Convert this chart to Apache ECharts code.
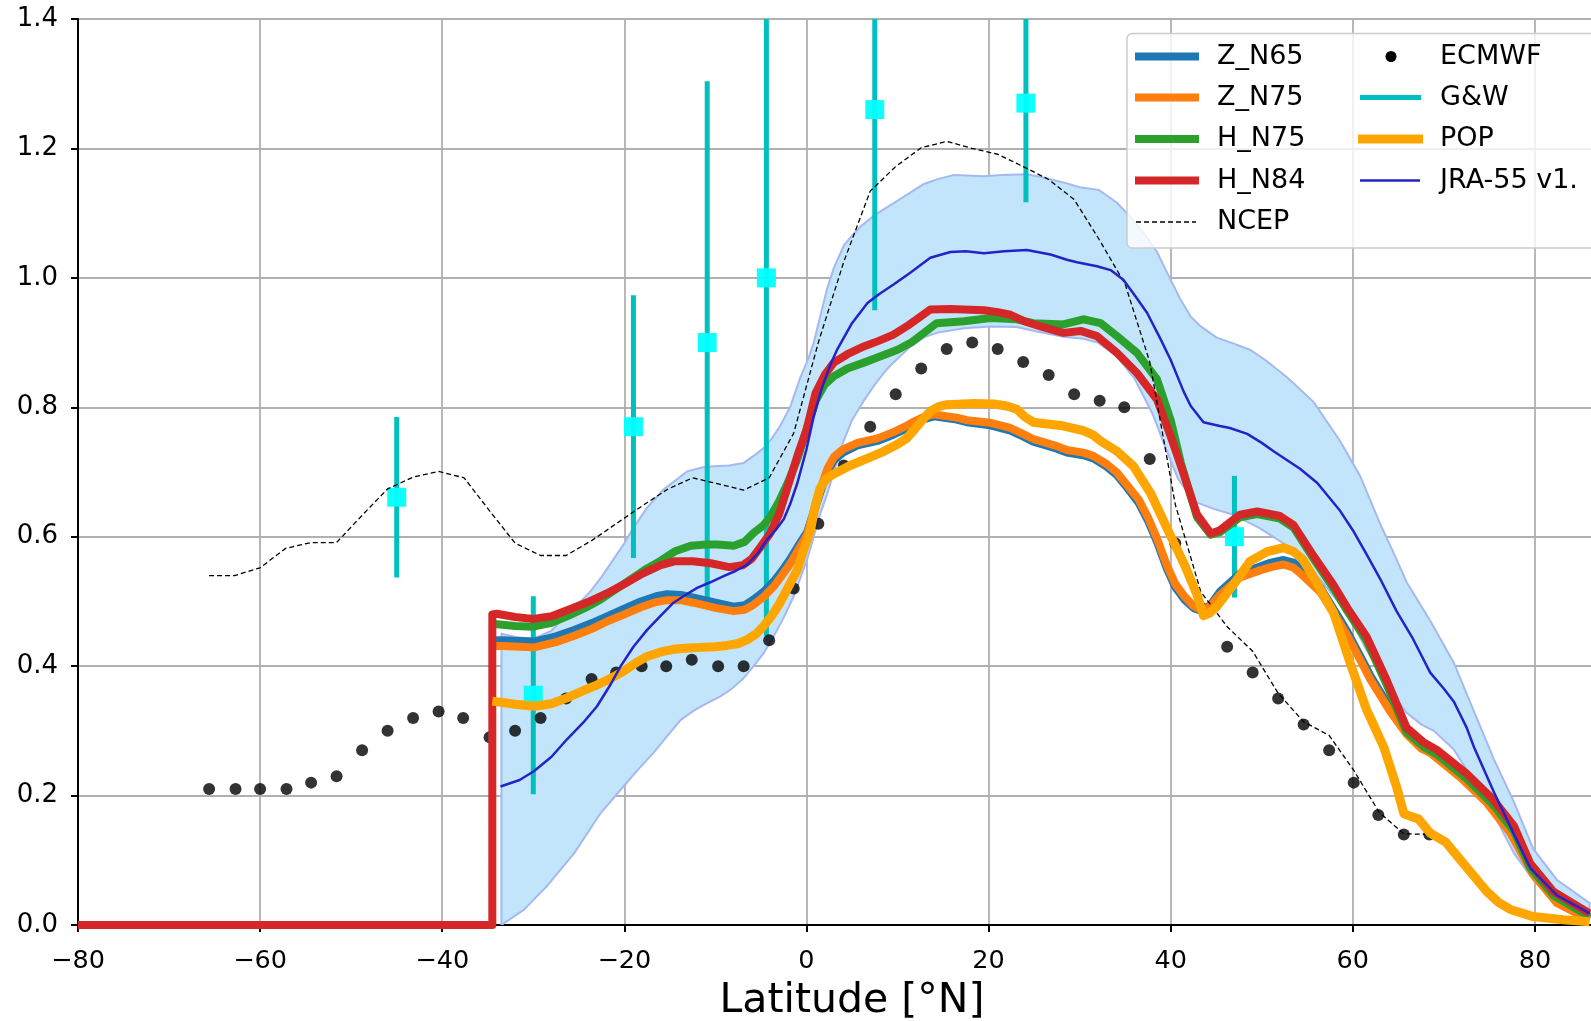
<!DOCTYPE html>
<html><head><meta charset="utf-8">
<script src="https://cdn.jsdelivr.net/npm/echarts@6/dist/echarts.min.js"></script>
<style>html,body{margin:0;padding:0;overflow:hidden;background:#fff}#chart{width:1640px;height:1021px}</style>
</head><body><div id="chart"></div>
<script>
// ---- data (latitude [°N], value) ----
const zN65 = [[-34.3,0.44],[-33.4,0.44],[-31.5,0.439],[-29.9,0.438],[-27.5,0.446],[-25.5,0.456],[-23.5,0.467],[-21.9,0.477],[-20,0.489],[-18.2,0.5],[-16.5,0.508],[-15.3,0.511],[-13.8,0.51],[-12.4,0.506],[-10,0.498],[-8,0.492],[-6.8,0.494],[-5.8,0.503],[-4.7,0.515],[-3.6,0.531],[-2.7,0.547],[-1.8,0.565],[-0.9,0.586],[0.07,0.607],[0.8,0.638],[1.5,0.668],[2.3,0.7],[3,0.718],[4,0.73],[5.6,0.741],[7.8,0.748],[9.6,0.758],[10.8,0.766],[11.8,0.774],[13,0.782],[14,0.786],[16.5,0.781],[17.6,0.777],[20.2,0.772],[22.4,0.764],[23.6,0.756],[24.9,0.747],[27.5,0.736],[28.6,0.73],[30.4,0.726],[31.5,0.721],[33,0.708],[34.1,0.695],[35.2,0.676],[36.5,0.652],[37.5,0.625],[38.5,0.592],[39.6,0.55],[40.5,0.522],[41.5,0.503],[42.5,0.49],[43.6,0.484],[44.5,0.497],[45.4,0.515],[47.6,0.543],[49.8,0.554],[51,0.56],[52.4,0.564],[53.5,0.56],[54.5,0.548],[56.4,0.522],[58.6,0.472],[59.4,0.453],[60.8,0.416],[61.9,0.386],[64.1,0.335],[65.9,0.3],[67.5,0.278],[68.5,0.27],[71.8,0.232],[74.7,0.193],[77.3,0.146],[79.8,0.08],[82.4,0.036],[86,0.01]];
const zN75 = [[-34.3,0.431],[-33.4,0.431],[-31.5,0.43],[-29.9,0.429],[-27.5,0.437],[-25.5,0.447],[-23.5,0.458],[-21.9,0.469],[-20,0.48],[-18.2,0.491],[-16.5,0.499],[-15.3,0.502],[-13.8,0.502],[-12.4,0.498],[-10,0.49],[-8,0.485],[-6.8,0.487],[-5.8,0.495],[-4.7,0.507],[-3.6,0.523],[-2.7,0.54],[-1.8,0.558],[-0.9,0.58],[0.07,0.603],[0.8,0.64],[1.5,0.672],[2.3,0.705],[3,0.723],[4,0.735],[5.6,0.745],[7.8,0.752],[9.6,0.762],[10.8,0.77],[11.8,0.778],[13,0.786],[14,0.789],[16.5,0.784],[17.6,0.78],[20.2,0.776],[22.4,0.768],[23.6,0.76],[24.9,0.751],[27.5,0.74],[28.6,0.734],[30.4,0.73],[31.5,0.725],[33,0.712],[34.1,0.699],[35.2,0.68],[36.5,0.657],[37.5,0.63],[38.5,0.597],[39.6,0.555],[40.5,0.527],[41.5,0.508],[42.5,0.493],[43.6,0.485],[44.5,0.495],[45.4,0.51],[47.6,0.537],[49.8,0.548],[51,0.553],[52.4,0.557],[53.5,0.552],[54.5,0.54],[56.4,0.515],[58.6,0.466],[59.4,0.447],[60.8,0.41],[61.9,0.38],[64.1,0.33],[65.9,0.295],[67.5,0.273],[68.5,0.266],[71.8,0.228],[74.7,0.189],[77.3,0.142],[79.8,0.078],[82.4,0.034],[86,0.008]];
const hN75 = [[-34.3,0.465],[-33.4,0.464],[-32,0.462],[-30,0.461],[-28,0.467],[-26.3,0.477],[-24,0.492],[-22.6,0.503],[-21,0.518],[-19.3,0.534],[-17.5,0.551],[-16,0.563],[-14.5,0.577],[-12.7,0.586],[-11,0.588],[-9.8,0.588],[-8,0.586],[-6.8,0.592],[-5.8,0.606],[-4.7,0.618],[-4,0.63],[-3,0.655],[-2,0.685],[-1,0.72],[0,0.765],[1,0.81],[2,0.835],[3,0.848],[4.5,0.86],[6.3,0.869],[8,0.878],[10,0.889],[11.5,0.9],[12.9,0.915],[14.3,0.93],[17.3,0.933],[20.2,0.938],[23.1,0.936],[24.9,0.93],[28.2,0.928],[30.4,0.936],[32.3,0.93],[34.1,0.91],[36.3,0.884],[38.5,0.843],[40,0.78],[41.1,0.715],[42.9,0.63],[44.4,0.603],[45.4,0.607],[47.6,0.63],[49.5,0.635],[52,0.628],[53.5,0.614],[55.7,0.566],[57.9,0.52],[59.4,0.485],[61.5,0.44],[63.7,0.372],[65.9,0.298],[67.8,0.275],[69.2,0.264],[72.5,0.226],[75.4,0.186],[77.7,0.145],[79.5,0.088],[82,0.046],[86,0.013]];
const hN84 = [[-80,0],[-34.5,0],[-34.5,0.48],[-34,0.481],[-32,0.476],[-30,0.473],[-28,0.477],[-26,0.488],[-24,0.499],[-22,0.512],[-20,0.527],[-18,0.543],[-16,0.556],[-14.5,0.562],[-12.5,0.562],[-10.5,0.559],[-8.5,0.553],[-7,0.556],[-6,0.566],[-5,0.585],[-4,0.605],[-3,0.635],[-2,0.68],[-1,0.725],[0,0.765],[1,0.822],[2,0.85],[3,0.869],[4.5,0.882],[6.3,0.894],[8,0.903],[9.5,0.912],[11,0.925],[12.5,0.94],[13.6,0.951],[15.8,0.952],[19.5,0.95],[21,0.947],[22.4,0.943],[23.9,0.933],[25.7,0.925],[28.2,0.915],[30.1,0.918],[31.9,0.91],[34.1,0.884],[36.3,0.853],[38.5,0.812],[40,0.755],[41.1,0.71],[42.9,0.634],[44.4,0.605],[45.4,0.61],[47.6,0.634],[49.5,0.639],[52,0.632],[53.5,0.618],[55.7,0.57],[57.9,0.525],[59.4,0.49],[61.5,0.446],[63.7,0.379],[65.9,0.305],[67.8,0.282],[69.2,0.271],[72.5,0.234],[75.4,0.194],[77.7,0.153],[79.5,0.095],[82,0.052],[86,0.018]];
const ncep = [[-65.6,0.54],[-62.8,0.54],[-60,0.552],[-57.2,0.582],[-54.4,0.591],[-51.6,0.591],[-48.8,0.633],[-46,0.674],[-43.2,0.692],[-40.4,0.701],[-37.6,0.691],[-34.8,0.64],[-32,0.59],[-29.2,0.571],[-26.4,0.571],[-23.6,0.594],[-20.9,0.62],[-18.1,0.647],[-15.3,0.673],[-12.5,0.691],[-9.8,0.682],[-6.9,0.672],[-4.1,0.691],[-1.4,0.76],[1.3,0.9],[4.1,1.025],[7,1.134],[9.8,1.172],[12.6,1.201],[15.4,1.211],[18.2,1.2],[21,1.191],[23.8,1.172],[26.6,1.152],[29.4,1.121],[32.2,1.058],[35,0.99],[37.7,0.87],[40.5,0.65],[43.3,0.515],[46.2,0.461],[49,0.423],[51.8,0.358],[54.6,0.314],[57.4,0.293],[60.1,0.239],[62.9,0.174],[65.6,0.141],[68.4,0.14]];
const ecmwf = [[-65.6,0.21],[-62.7,0.21],[-60,0.21],[-57.1,0.21],[-54.4,0.22],[-51.6,0.23],[-48.8,0.27],[-46,0.3],[-43.2,0.32],[-40.4,0.33],[-37.7,0.32],[-34.8,0.29],[-32,0.3],[-29.2,0.32],[-26.4,0.35],[-23.6,0.38],[-20.9,0.39],[-18.1,0.4],[-15.4,0.4],[-12.6,0.41],[-9.7,0.4],[-6.9,0.4],[-4.1,0.44],[-1.4,0.52],[1.3,0.62],[4.1,0.71],[7,0.77],[9.8,0.82],[12.6,0.86],[15.4,0.89],[18.2,0.9],[21,0.89],[23.8,0.87],[26.6,0.85],[29.4,0.82],[32.2,0.81],[34.9,0.8],[37.7,0.72],[40.5,0.59],[43.4,0.49],[46.2,0.43],[49,0.39],[51.8,0.35],[54.6,0.31],[57.4,0.27],[60.1,0.22],[62.8,0.17],[65.6,0.14],[68.4,0.14]];
const gwLat = [-45, -30, -19, -10.9, -4.4, 7.5, 24.1, 47];
const gwVal = [0.661, 0.355, 0.77, 0.9, 1.0, 1.26, 1.27, 0.6];
const gwErr = [0.124, 0.153, 0.203, 0.404, 0.553, 0.31, 0.153, 0.094];
const pop = [[-34.5,0.346],[-32,0.341],[-29.9,0.338],[-28,0.342],[-26.3,0.351],[-24.5,0.362],[-23.3,0.369],[-21.5,0.381],[-20.1,0.392],[-18.5,0.407],[-17.5,0.415],[-16,0.422],[-14.6,0.426],[-13,0.428],[-11.6,0.429],[-10,0.43],[-8.7,0.432],[-7.5,0.435],[-6.5,0.441],[-5.5,0.45],[-4.7,0.462],[-3.8,0.478],[-2.9,0.498],[-2,0.522],[-1,0.549],[-0.3,0.58],[0.44,0.61],[1,0.65],[1.5,0.675],[2.2,0.69],[3,0.697],[4.8,0.71],[6.7,0.721],[8.5,0.732],[10,0.743],[11,0.752],[11.8,0.765],[12.7,0.78],[13.6,0.794],[14.5,0.801],[15.4,0.804],[18.4,0.806],[20.6,0.805],[22,0.802],[23.1,0.797],[24,0.785],[24.9,0.777],[26,0.775],[27.9,0.772],[30.4,0.764],[31.5,0.757],[32.3,0.748],[34.1,0.732],[35.9,0.709],[37.8,0.667],[39.6,0.613],[41.5,0.557],[42.9,0.51],[43.6,0.478],[44.3,0.482],[45.1,0.493],[46.9,0.526],[48.7,0.562],[50.6,0.577],[52.4,0.583],[53.5,0.577],[54.5,0.565],[55.7,0.537],[57.9,0.482],[59.7,0.405],[61.5,0.333],[63.4,0.275],[64.8,0.214],[65.6,0.172],[66.5,0.167],[67.2,0.164],[68.5,0.142],[70.2,0.128],[72.5,0.089],[74.7,0.052],[76,0.035],[77.3,0.024],[79.8,0.013],[83.1,0.008],[86,0.005]];
const jra = [[-33.6,0.214],[-31.5,0.224],[-29.9,0.238],[-28,0.26],[-26.3,0.287],[-24.5,0.313],[-23,0.338],[-21.5,0.372],[-20.4,0.4],[-19,0.43],[-17.5,0.456],[-16,0.478],[-14.6,0.498],[-13.3,0.51],[-12,0.521],[-10.5,0.53],[-9.1,0.539],[-7.8,0.547],[-6.5,0.557],[-5.4,0.573],[-4.3,0.596],[-3.4,0.61],[-2.5,0.627],[-1.8,0.65],[-1,0.683],[0,0.735],[0.8,0.786],[1.7,0.83],[2.6,0.865],[3.4,0.89],[5,0.93],[6.7,0.961],[8,0.975],[9.6,0.99],[11.4,1.008],[13.6,1.031],[15.8,1.04],[17.5,1.041],[19.5,1.038],[21.7,1.041],[24.2,1.043],[26.8,1.036],[28.6,1.028],[29.7,1.024],[31.9,1.018],[33.4,1.012],[34.8,0.997],[36.2,0.97],[37.4,0.946],[38.9,0.905],[40,0.873],[41.4,0.825],[42.2,0.802],[43.6,0.777],[45.4,0.771],[46.5,0.768],[48.4,0.759],[50,0.745],[51.3,0.732],[54.2,0.705],[56.1,0.683],[58.6,0.64],[60,0.61],[61.5,0.573],[63,0.535],[64.8,0.485],[66.5,0.445],[68.5,0.39],[70,0.365],[71.1,0.345],[72.5,0.305],[73.3,0.275],[75.5,0.205],[77.7,0.14],[79.5,0.088],[82.4,0.046],[86,0.018]];
const bandUpper = [[-33.5,0.45],[-32,0.445],[-30,0.442],[-28,0.455],[-26.3,0.48],[-25,0.497],[-23.7,0.516],[-22.5,0.538],[-21.2,0.565],[-20,0.59],[-19,0.614],[-17.5,0.645],[-15.7,0.673],[-13.1,0.701],[-11.5,0.707],[-10.2,0.709],[-8.5,0.71],[-6.9,0.714],[-5.5,0.728],[-4.7,0.737],[-3.8,0.752],[-2.9,0.771],[-1.8,0.8],[-0.7,0.845],[0.2,0.875],[0.8,0.9],[1.5,0.94],[2.3,0.985],[3,1.015],[4.1,1.05],[4.8,1.062],[6,1.08],[7.6,1.098],[10.1,1.12],[12.9,1.145],[14.5,1.153],[16.2,1.159],[19.5,1.157],[21.5,1.159],[24.2,1.16],[26,1.155],[28.6,1.146],[30,1.14],[32.1,1.136],[34.1,1.116],[35.5,1.095],[37,1.07],[38.5,1.04],[39.6,1.008],[41.1,0.966],[42.2,0.94],[43.3,0.925],[45,0.908],[47,0.898],[48.7,0.889],[50.5,0.872],[52.8,0.846],[55.7,0.808],[58.6,0.748],[60.8,0.694],[63,0.62],[64.8,0.565],[65.9,0.53],[68.5,0.47],[71.1,0.405],[73.3,0.33],[75.5,0.256],[77.7,0.19],[79.8,0.118],[82.4,0.07],[86,0.034]];
const bandLower = [[-33.5,0],[-33.2,0.003],[-31,0.024],[-28.5,0.06],[-25.5,0.111],[-22.6,0.173],[-20.1,0.214],[-18.5,0.24],[-16.8,0.266],[-15.3,0.292],[-13.8,0.317],[-12.3,0.332],[-10.9,0.343],[-9.5,0.353],[-8.3,0.364],[-7,0.38],[-5.8,0.4],[-4.7,0.42],[-3.6,0.446],[-2.5,0.475],[-1.4,0.508],[-0.7,0.535],[0.07,0.565],[0.8,0.6],[1.5,0.635],[2.3,0.667],[3,0.7],[4,0.745],[5,0.78],[6.3,0.81],[7.5,0.835],[8.9,0.86],[10,0.875],[11.5,0.895],[12.9,0.908],[14.3,0.915],[17.3,0.922],[20.2,0.925],[23.1,0.924],[25.3,0.917],[28.2,0.909],[30.4,0.906],[32,0.9],[34,0.88],[36,0.845],[38,0.79],[39.5,0.735],[40.8,0.69],[42.5,0.655],[44.7,0.643],[46.9,0.634],[49.8,0.613],[52.8,0.586],[54.9,0.559],[57.2,0.52],[59.4,0.482],[61.5,0.425],[63.1,0.39],[64.5,0.355],[65.9,0.328],[67.5,0.31],[68.9,0.3],[71.1,0.271],[72.5,0.24],[74.7,0.192],[77.7,0.111],[79.8,0.07],[82.7,0.034],[86,0.012]];
const legendCol1 = ['Z_N65', 'Z_N75', 'H_N75', 'H_N84', 'NCEP'];
const legendCol2 = ['ECMWF', 'G&W', 'POP', 'JRA-55 v1.'];

// ---- styles ----
const FONT = '"DejaVu Sans", sans-serif';
const C = {zN65:'#1f77b4', zN75:'#ff7f0e', hN75:'#2ca02c', hN84:'#d62728', pop:'#ffa500', jra:'#2323c8', gwBar:'#00bfbf', gwMark:'#00ffff', band:'#c2e5fc', bandEdge:'#a6b8f0'};

function line(name, data, color, width, extra) {
  return Object.assign({
    type:'line', name, data, symbol:'none', smooth:false, silent:true,
    lineStyle:{color, width, join:'round', cap:'butt'}
  }, extra || {});
}

const gwData = gwLat.map((x, i) => [x, gwVal[i], gwErr[i]]);

const chart = echarts.init(document.getElementById('chart'), null, {renderer:'canvas'});

const rows = [56.5, 97.5, 139, 180.5, 222];
const lg = [];
lg.push({type:'rect', z:100, shape:{x:1127, y:33.5, width:560, height:214.5, r:5}, style:{fill:'rgba(255,255,255,0.8)', stroke:'#cccccc', lineWidth:1.5}});
const col1Colors = [C.zN65, C.zN75, C.hN75, C.hN84];
legendCol1.forEach((t, i) => {
  if (i < 4) lg.push({type:'line', z:101, shape:{x1:1135, y1:rows[i], x2:1199, y2:rows[i]}, style:{stroke:col1Colors[i], lineWidth:8}});
  else lg.push({type:'line', z:101, shape:{x1:1136, y1:rows[i], x2:1196, y2:rows[i]}, style:{stroke:'#000', lineWidth:1.3, lineDash:[5,3]}});
  lg.push({type:'text', z:101, style:{text:t, x:1217, y:rows[i], font:'27px ' + FONT, fill:'#000', verticalAlign:'middle', textVerticalAlign:'middle'}});
});
lg.push({type:'circle', z:101, shape:{cx:1391, cy:rows[0], r:5.5}, style:{fill:'#000'}});
lg.push({type:'line', z:101, shape:{x1:1360, y1:rows[1], x2:1421, y2:rows[1]}, style:{stroke:C.gwBar, lineWidth:5}});
lg.push({type:'line', z:101, shape:{x1:1358, y1:rows[2], x2:1423, y2:rows[2]}, style:{stroke:C.pop, lineWidth:9}});
lg.push({type:'line', z:101, shape:{x1:1360, y1:rows[3], x2:1420, y2:rows[3]}, style:{stroke:C.jra, lineWidth:2.5}});
legendCol2.forEach((t, i) => {
  lg.push({type:'text', z:101, style:{text:t, x:1440, y:rows[i], font:'27px ' + FONT, fill:'#000', verticalAlign:'middle', textVerticalAlign:'middle'}});
});

const option = {
  animation:false,
  backgroundColor:'#fff',
  grid:{left:78, right:14, top:19, bottom:96, show:true, borderColor:'#000', borderWidth:2, backgroundColor:'transparent',
    containLabel:false, outerBoundsMode:'none'},
  xAxis:{
    type:'value', min:-80, max:90, interval:20,
    name:'Latitude [°N]', nameLocation:'middle', nameGap:56,
    nameTextStyle:{fontSize:41, fontFamily:FONT, color:'#000'},
    axisLine:{show:true, onZero:false, lineStyle:{color:'#000', width:2}},
    axisTick:{show:true, length:7, lineStyle:{color:'#000', width:2}},
    axisLabel:{fontSize:25.5, fontFamily:FONT, color:'#000', margin:23, showMaxLabel:false,
      formatter:v => v < 0 ? '\u2212' + Math.abs(v) : String(v)},
    splitLine:{show:true, lineStyle:{color:'#b0b0b0', width:1.8}}
  },
  yAxis:{
    type:'value', min:0, max:1.4, interval:0.2,
    axisLine:{show:true, onZero:false, lineStyle:{color:'#000', width:2}},
    axisTick:{show:true, length:7, lineStyle:{color:'#000', width:2}},
    axisLabel:{fontSize:26, fontFamily:FONT, color:'#000', margin:20, formatter:v => v.toFixed(1)},
    splitLine:{show:true, lineStyle:{color:'#b0b0b0', width:1.8}}
  },
  series:[
    {type:'custom', name:'band', silent:true, clip:true, data:[[bandUpper[0][0], bandUpper[0][1]]],
      renderItem:(params, api) => {
        const up = bandUpper.map(p => api.coord(p));
        const lo = bandLower.map(p => api.coord(p)).reverse();
        return {type:'polygon', shape:{points:up.concat(lo)}, style:{fill:C.band, stroke:C.bandEdge, lineWidth:2}};
      }},
    line('Z_N65', zN65, C.zN65, 8),
    line('Z_N75', zN75, C.zN75, 8),
    line('H_N75', hN75, C.hN75, 8),
    line('H_N84', hN84, C.hN84, 8),
    line('NCEP', ncep, '#000', 1.3, {lineStyle:{color:'#000', width:1.3, type:[5,3]}}),
    {type:'scatter', name:'ECMWF', data:ecmwf, symbol:'circle', symbolSize:12, silent:true, itemStyle:{color:'#000'}},
    {type:'scatter', name:'G&W marker', data:gwData.map(d => [d[0], d[1]]), symbol:'rect', symbolSize:19, silent:true, itemStyle:{color:C.gwMark, opacity:0.95}},
    {type:'custom', name:'G&W', silent:true, clip:true, data:gwData,
      renderItem:(params, api) => {
        const x = api.value(0), v = api.value(1), e = api.value(2);
        const a = api.coord([x, v - e]), b = api.coord([x, v + e]);
        return {type:'line', shape:{x1:a[0], y1:a[1], x2:b[0], y2:b[1]}, style:{stroke:C.gwBar, lineWidth:5}};
      }},
    line('POP', pop, C.pop, 9),
    line('JRA-55 v1.', jra, C.jra, 2.5)
  ],
  graphic:lg
};
chart.setOption(option);
</script></body></html>
